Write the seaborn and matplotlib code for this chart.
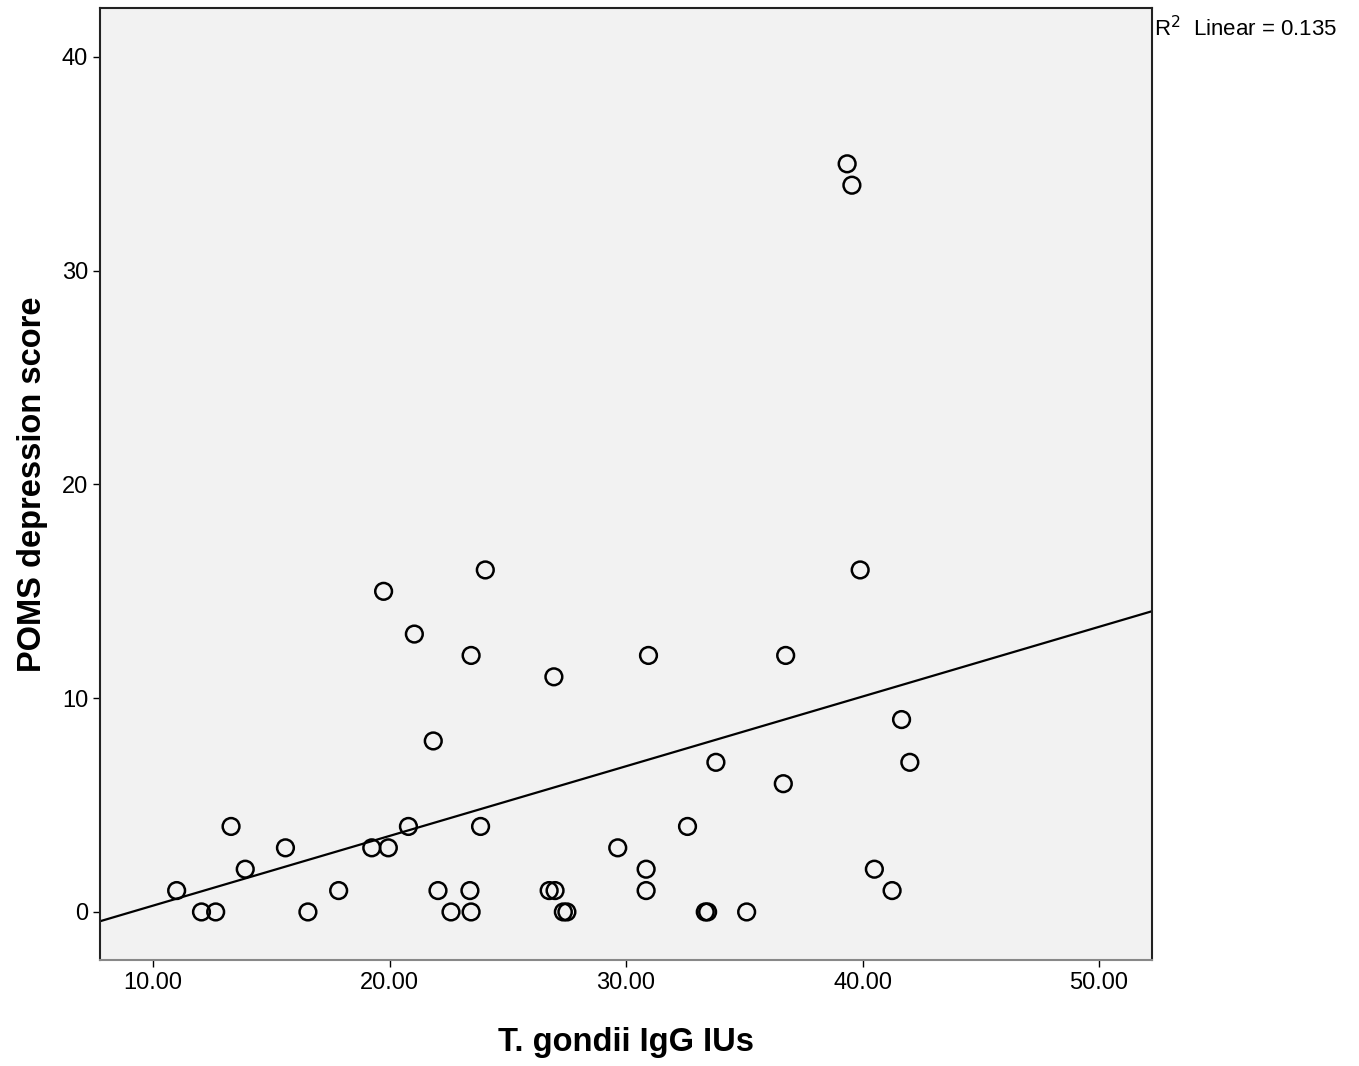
import numpy as np
import pandas as pd
import matplotlib
matplotlib.use("Agg")
import matplotlib.pyplot as plt
import seaborn as sns

# data
igg = [11.0, 12.05, 12.65, 13.3, 13.9, 15.6, 16.55, 17.85, 19.75, 19.25, 19.95,
       21.05, 20.8, 21.85, 22.05, 22.6, 23.45, 23.4, 23.45, 24.05, 23.85,
       26.95, 26.75, 27.0, 27.35, 27.5, 30.95, 29.65, 30.85, 30.85, 32.6,
       33.35, 33.45, 35.1, 33.8, 36.75, 36.65, 39.9, 41.65, 42.0, 40.5, 41.25,
       39.35, 39.55]
poms = [1, 0, 0, 4, 2, 3, 0, 1, 15, 3, 3,
        13, 4, 8, 1, 0, 12, 1, 0, 16, 4,
        11, 1, 1, 0, 0, 12, 3, 2, 1, 4,
        0, 0, 0, 7, 12, 6, 16, 9, 7, 2, 1,
        35, 34]
df = pd.DataFrame({"igg": igg, "poms": poms})

sns.set_style("ticks")
plt.rcParams["font.family"] = ["Liberation Sans", "DejaVu Sans"]
plt.rcParams["text.color"] = "black"
plt.rcParams["axes.labelcolor"] = "black"
plt.rcParams["xtick.color"] = "black"
plt.rcParams["ytick.color"] = "black"

fig = plt.figure(figsize=(13.59, 10.66), dpi=100)
ax = fig.add_axes([0.0736, 0.0994, 0.7741, 0.8931])
ax.set_facecolor("#f2f2f2")
ax.set_xlim(7.76, 52.24)
ax.set_ylim(-2.25, 42.29)

# line spans the whole axis (truncate=False uses the current xlim)
sns.regplot(data=df, x="igg", y="poms", ax=ax, ci=None, truncate=False,
            scatter_kws=dict(s=145, facecolors="none", edgecolors="black",
                             linewidths=1.8, alpha=1),
            line_kws=dict(color="black", lw=1.6))

r2 = np.corrcoef(igg, poms)[0, 1] ** 2
ax.set_xticks([10, 20, 30, 40, 50])
ax.set_xticklabels(["10.00", "20.00", "30.00", "40.00", "50.00"])
ax.set_yticks([0, 10, 20, 30, 40])
ax.tick_params(labelsize=17, length=5, width=1, color="black")
for s in ax.spines.values():
    s.set_visible(True)
    s.set_color("#222222")
    s.set_linewidth(1.5)
ax.spines["bottom"].set_color("#888888")
ax.set_xlabel("T. gondii IgG IUs", fontsize=23.5, fontweight="bold", labelpad=24)
ax.set_ylabel("POMS depression score", fontsize=23.5, fontweight="bold", labelpad=10)
fig.text(0.849, 0.973, "R$^2$  Linear = %.3f" % r2, fontsize=16, va="center", ha="left")

fig.savefig("out.png", dpi=100)
